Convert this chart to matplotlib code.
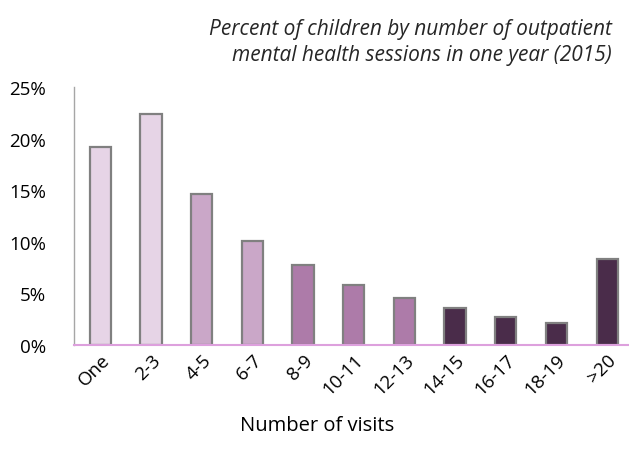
import matplotlib.pyplot as plt
from matplotlib.ticker import FuncFormatter

# === Datos ===
categorias = ["One", "2-3", "4-5", "6-7", "8-9", "10-11", "12-13",
              "14-15", "16-17", "18-19", ">20"]
porcentajes = [19.2, 22.4, 14.6, 10.1, 7.8, 5.8, 4.6, 3.6, 2.7, 2.1, 8.3]
colores = ["#e6d4e6", "#e6d4e6", "#caa7c8", "#caa7c8", "#ad7ba9", "#ad7ba9",
           "#ad7ba9", "#4a2c4a", "#4a2c4a", "#4a2c4a", "#4a2c4a"]

plt.rcParams['font.family'] = ['Open Sans', 'DejaVu Sans']

fig = plt.figure(figsize=(6.29, 4.60), dpi=100)
ax = fig.add_axes([74 / 629, 1 - 346 / 460, 556 / 629, 258 / 460])

x = range(len(categorias))
ax.bar(x, porcentajes, width=0.42, color=colores, edgecolor="#808080",
       linewidth=1.6, zorder=2)

ax.set_xlim(-0.52, 10.45)
ax.set_ylim(0, 25)
ax.set_yticks([0, 5, 10, 15, 20, 25])
ax.yaxis.set_major_formatter(FuncFormatter(lambda v, p: f"{v:.0f}%"))
ax.tick_params(axis="y", length=0, labelsize=13.5, pad=20)
ax.tick_params(axis="x", length=0, labelsize=13.5, pad=4)
ax.set_xticks(list(x))
ax.set_xticklabels(categorias, rotation=45, ha="right", rotation_mode="anchor")

for s in ["top", "right"]:
    ax.spines[s].set_visible(False)
ax.spines["left"].set_color("#a6a6a6")
ax.spines["left"].set_linewidth(1.0)
ax.spines["bottom"].set_color("#dda0dd")
ax.spines["bottom"].set_linewidth(1.5)
ax.spines["bottom"].set_zorder(3)

ax.set_xlabel("Number of visits", fontsize=14.5)
ax.xaxis.set_label_coords(0.437, -0.27)

fig.text(612 / 629, 1 - 30 / 460, "Percent of children by number of outpatient",
         ha="right", va="center", fontsize=15, style="italic", color="#262626")
fig.text(612 / 629, 1 - 55 / 460, "mental health sessions in one year (2015)",
         ha="right", va="center", fontsize=15, style="italic", color="#262626")

fig.savefig("out.png", dpi=100)
